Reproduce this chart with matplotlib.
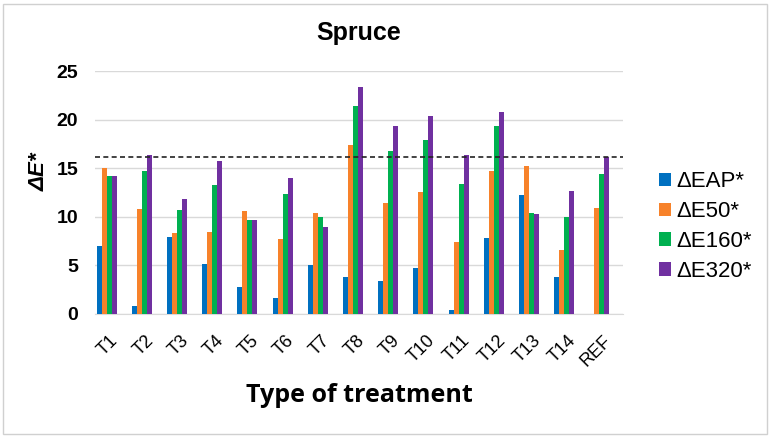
import numpy as np
import matplotlib
matplotlib.use("Agg")
import matplotlib.pyplot as plt
import matplotlib.transforms as mtransforms
from matplotlib.patches import Rectangle

plt.rcParams["font.family"] = ["Liberation Sans", "DejaVu Sans"]

treatments = ["T1", "T2", "T3", "T4", "T5", "T6", "T7", "T8", "T9", "T10",
              "T11", "T12", "T13", "T14", "REF"]
dE_AP = [7.0, 0.8, 7.9, 5.1, 2.8, 1.6, 5.0, 3.8, 3.4, 4.7, 0.4, 7.8, 12.2, 3.8, 0.0]
dE_50 = [15.0, 10.8, 8.3, 8.4, 10.6, 7.7, 10.4, 17.4, 11.4, 12.6, 7.4, 14.7, 15.2, 6.6, 10.9]
dE_160 = [14.2, 14.7, 10.7, 13.3, 9.7, 12.3, 10.0, 21.4, 16.8, 17.9, 13.4, 19.3, 10.4, 10.0, 14.4]
dE_320 = [14.2, 16.4, 11.8, 15.7, 9.7, 14.0, 9.0, 23.4, 19.3, 20.4, 16.4, 20.8, 10.3, 12.7, 16.2]
threshold = 16.2

series = [
    ("ΔEAP*", dE_AP, "#0070C0"),
    ("ΔE50*", dE_50, "#F7822A"),
    ("ΔE160*", dE_160, "#00B050"),
    ("ΔE320*", dE_320, "#7030A0"),
]

fig = plt.figure(figsize=(7.7, 4.4), dpi=100)
ax = fig.add_axes([95 / 770, 1 - 314 / 440, 528 / 770, 243 / 440])

x = np.arange(len(treatments))
w = 0.143
for i, (name, vals, col) in enumerate(series):
    ax.bar(x + (i - 1.5) * w, vals, width=w, color=col, label=name, zorder=3)

ax.axhline(threshold, color="#222222", linestyle=(0, (3, 2)), linewidth=1.2, zorder=4)

ax.set_xlim(-0.33, len(treatments) - 0.33)
ax.set_ylim(0, 25)
ax.set_yticks([0, 5, 10, 15, 20, 25])
ax.yaxis.grid(True, color="#d9d9d9", linewidth=1, zorder=0)
for s in ["top", "right", "left"]:
    ax.spines[s].set_visible(False)
ax.spines["bottom"].set_color("#d9d9d9")
ax.tick_params(axis="both", length=0)
ax.tick_params(axis="y", labelsize=14, pad=12)
for lbl in ax.get_yticklabels():
    lbl.set_fontweight("bold")
ax.set_xticks(x)
ax.set_xticklabels(treatments, rotation=45, ha="right", rotation_mode="anchor", fontsize=13)
ax.tick_params(axis="x", pad=13)
shift = mtransforms.ScaledTranslation(3 / 100, 0, fig.dpi_scale_trans)
for lbl in ax.get_xticklabels():
    lbl.set_transform(lbl.get_transform() + shift)

ax.set_ylabel("ΔE*", fontsize=16, fontweight="bold", style="italic")
ax.yaxis.set_label_coords(-0.085, 0.584)
ax.set_xlabel("Type of treatment", fontsize=18, fontweight="bold",
              family=["Open Sans", "DejaVu Sans"], labelpad=10)
ax.set_title("Spruce", fontsize=18, fontweight="bold", pad=22)

ax.legend(loc="center left", bbox_to_anchor=(1.03, 0.36), frameon=False,
          fontsize=16, handlelength=0.55, handleheight=0.55, handletextpad=0.25,
          labelspacing=0.4)

fig.patches.append(Rectangle((0.004, 0.014), 0.992, 0.978, transform=fig.transFigure,
                             fill=False, edgecolor="#d0d0d0", linewidth=1))

fig.savefig("out.png", dpi=100)
